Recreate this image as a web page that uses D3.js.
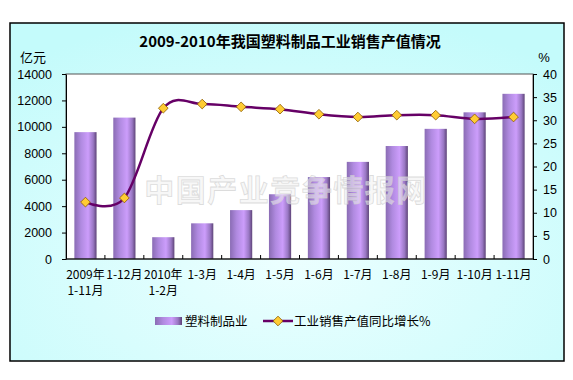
<!DOCTYPE html>
<html><head><meta charset="utf-8">
<script src="https://cdn.jsdelivr.net/npm/d3@7"></script>
<style>
html,body{margin:0;padding:0;background:#fff;}
svg{display:block;}
text{font-family:"Liberation Sans",Arial,"Noto Sans CJK SC",sans-serif;}
</style></head>
<body>
<script>
const categories = ["2009年\n1-11月","1-12月","2010年\n1-2月","1-3月","1-4月","1-5月","1-6月","1-7月","1-8月","1-9月","1-10月","1-11月"];
const salesValues = [9600,10700,1650,2700,3700,4900,6200,7350,8550,9850,11100,12500];
const growthValues = [12.3,13.2,32.6,33.5,32.9,32.4,31.3,30.7,31.1,31.1,30.3,30.7];
const leftTicks = [0,2000,4000,6000,8000,10000,12000,14000];
const rightTicks = [0,5,10,15,20,25,30,35,40];
const title = "2009-2010年我国塑料制品工业销售产值情况";
const leftUnit = "亿元", rightUnit = "%";
const barName = "塑料制品业", lineName = "工业销售产值同比增长%";
const watermark = "中国产业竞争情报网";

const W=573,H=380;
const svg=d3.select("body").append("svg").attr("width",W).attr("height",H);
const defs=svg.append("defs");
const bg=defs.append("radialGradient").attr("id","bg").attr("cx","50%").attr("cy","70%").attr("r","75%");
bg.append("stop").attr("offset","0%").attr("stop-color","#ecffff");
bg.append("stop").attr("offset","100%").attr("stop-color","#c4fbfb");
const bar=defs.append("linearGradient").attr("id","bar").attr("x1","0").attr("x2","1").attr("y1","0").attr("y2","0");
[[0,"#8a6cb4"],[0.3,"#b08ae0"],[0.62,"#cc9dfb"],[0.85,"#9a78c4"],[1,"#5e4478"]].forEach(s=>bar.append("stop").attr("offset",s[0]).attr("stop-color",s[1]));

// frame
svg.append("rect").attr("x",10).attr("y",23).attr("width",554).attr("height",338).attr("fill","url(#bg)").attr("stroke","#000").attr("stroke-width",1.5);

const L=66,R=533,T=74,B=259;
svg.append("rect").attr("x",L).attr("y",T).attr("width",R-L).attr("height",B-T).attr("fill","#fff");

const x=d3.scaleBand().domain(categories).range([L,R]).paddingInner(0.43).paddingOuter(0.215);
const xb=d3.scaleBand().domain(categories).range([L,R]);
const yL=d3.scaleLinear().domain([0,14000]).range([B,T]);
const yR=d3.scaleLinear().domain([0,40]).range([B,T]);

// bars
svg.append("g").selectAll("rect").data(salesValues).join("rect")
  .attr("x",(d,i)=>x(categories[i])).attr("width",x.bandwidth())
  .attr("y",d=>yL(d)).attr("height",d=>B-yL(d)).attr("fill","url(#bar)");

// watermark (overlay)
svg.append("text").attr("x",286).attr("y",201).attr("text-anchor","middle")
  .style("font-family","'Noto Sans CJK SC',sans-serif").style("font-size","30px").style("font-weight","bold")
  .style("letter-spacing","1.5px")
  .attr("fill","#f0f0f0").attr("fill-opacity",0.55).attr("stroke","#cfcfcf").attr("stroke-opacity",0.7).attr("stroke-width",0.8).text(watermark);

// plot border
svg.append("rect").attr("x",L).attr("y",T).attr("width",R-L).attr("height",B-T).attr("fill","none").attr("stroke","#555").attr("stroke-width",1);

// axes
const gl=svg.append("g").attr("transform",`translate(${L},0)`).call(d3.axisLeft(yL).tickValues(leftTicks).tickSize(4).tickSizeOuter(0).tickPadding(10).tickFormat(d3.format("d")));
const gr=svg.append("g").attr("transform",`translate(${R},0)`).call(d3.axisRight(yR).tickValues(rightTicks).tickSize(4).tickSizeOuter(0).tickPadding(6));
[gl,gr].forEach(g=>{g.selectAll("path,line").attr("stroke","#000");g.selectAll("text").style("font-size","12.5px").attr("fill","#000").style("font-family","'Liberation Sans',Arial,sans-serif");});

// x axis
svg.append("line").attr("x1",L).attr("x2",R).attr("y1",B).attr("y2",B).attr("stroke","#000");
svg.append("g").selectAll("line").data(d3.range(1,categories.length)).join("line")
  .attr("x1",i=>L+i*xb.step()).attr("x2",i=>L+i*xb.step()).attr("y1",B).attr("y2",B-4).attr("stroke","#000");
const xl=svg.append("g").selectAll("text").data(categories).join("text")
  .attr("x",d=>xb(d)+xb.bandwidth()/2).attr("y",279).attr("text-anchor","middle")
  .style("font-size","12px").style("font-family","'Noto Sans CJK SC',sans-serif").attr("fill","#000");
xl.each(function(d){const parts=d.split("\n");const t=d3.select(this);parts.forEach((p,k)=>t.append("tspan").attr("x",xb(d)+xb.bandwidth()/2).attr("dy",k?16:0).text(p));});

// line
const line=d3.line().x((d,i)=>xb(categories[i])+xb.bandwidth()/2).y(d=>yR(d)).curve(d3.curveCardinal.tension(0));
svg.append("path").datum(growthValues).attr("d",line).attr("fill","none").attr("stroke","#660066").attr("stroke-width",2.5);
const dia=d3.symbol().type(d3.symbolDiamond2).size(60);
svg.append("g").selectAll("path").data(growthValues).join("path")
  .attr("transform",(d,i)=>`translate(${xb(categories[i])+xb.bandwidth()/2},${yR(d)})`)
  .attr("d",dia).attr("fill","#ffcc33").attr("stroke","#8a5a00").attr("stroke-width",0.8);

// title and units
svg.append("text").attr("x",290).attr("y",47).attr("text-anchor","middle").style("font-size","15px").style("font-weight","bold")
  .style("font-family","'Noto Sans CJK SC',sans-serif").attr("fill","#000").text(title);
svg.append("text").attr("x",33).attr("y",62).attr("text-anchor","middle").style("font-size","13px").style("font-family","'Noto Sans CJK SC',sans-serif").text(leftUnit);
svg.append("text").attr("x",544).attr("y",62).attr("text-anchor","middle").style("font-size","13px").style("font-family","'Liberation Sans',sans-serif").text(rightUnit);

// legend
svg.append("rect").attr("x",155).attr("y",317).attr("width",27).attr("height",8).attr("fill","url(#bar)");
svg.append("text").attr("x",185).attr("y",326).style("font-size","12.5px").style("font-family","'Noto Sans CJK SC',sans-serif").text(barName);
svg.append("line").attr("x1",263).attr("x2",293).attr("y1",321).attr("y2",321).attr("stroke","#660066").attr("stroke-width",2.5);
svg.append("path").attr("transform","translate(278,321)").attr("d",dia).attr("fill","#ffcc33").attr("stroke","#8a5a00").attr("stroke-width",0.8);
svg.append("text").attr("x",294).attr("y",326).style("font-size","12.5px").style("font-family","'Noto Sans CJK SC',sans-serif").text(lineName);
</script>
</body></html>
